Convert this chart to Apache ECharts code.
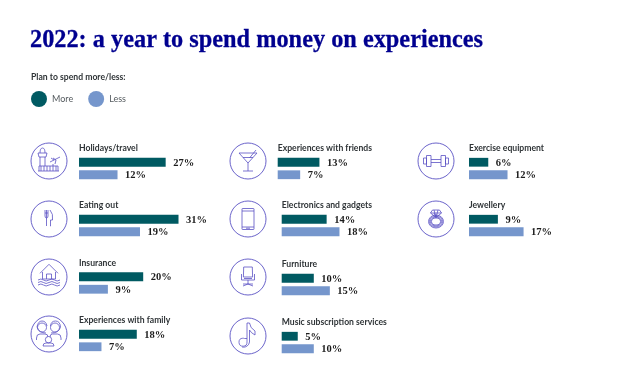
<!DOCTYPE html>
<html><head><meta charset="utf-8">
<style>html,body{margin:0;padding:0;background:#fff}#c{width:640px;height:384px}</style>
<script src="https://cdn.jsdelivr.net/npm/echarts@6/dist/echarts.min.js"></script>
</head><body><div id="c"></div>
<script>
const categories = ['Holidays/travel','Eating out','Insurance','Experiences with family','Experiences with friends','Electronics and gadgets','Furniture','Music subscription services','Exercise equipment','Jewellery'];
const moreValues = [27,31,20,18,13,14,10,5,6,9];
const lessValues = [12,19,9,7,7,18,15,10,12,17];
const seriesNames = ['More','Less'];
const colors = {More:'#005a62',Less:'#7596cc'};
const ink='#5a52c4';
const panelX = [79,79,79,79,277.7,281.7,281.7,281.7,469,469];
const panelY = [156,213,270.5,328,156,213,272,330,156,213];
const iconX = [49,49,49,49,248,248,248,248,436,436];
const iconY = [161,219,277,334,161,219,277,336,161,219];
const PX = 3.21, MAXV = 35, H = 25;
const icons = [
 'M-11 10H10 M-10 10V5H9V10 M-8 5V10 M-5 5V10 M-2 5V10 M1 5V10 M4 5V10 M7 5V10 M-11 -8H-2L-3 -4H-10Z M-9 -4V5 M-4 -4V5 M-9 -8Q-9 -13 -6.5 -13Q-4 -13 -4 -8 M1 1L11 -4 M4 -3L7 -1L6 3 M2 -3L5 -1 M4 3V5',
 'M-4 -9V-3Q-4 -1 -2.5 -1V7 M-1 -9V-3Q-1 -1 -2.5 -1 M-2.5 -9V-1 M1 -9Q4.5 -5 3.5 1H1.5V7H1 M-4 -6H-1',
 'M-9 -3.7L0 -12.7L9 -3.7 M-6.5 -5V2H6.5V-5 M-2.5 2V-3H2.5V2 M-11 3Q-8 1 -5.5 3T0 3T5.5 3T11 3 M-11 5.5Q-8 3.5 -5.5 5.5T0 5.5T5.5 5.5T11 5.5 M-11 8Q-8 6 -5.5 8T0 8T5.5 8T11 8',
 'M-7 -11A4.5 4.5 0 0 1 -7 -2A4.5 4.5 0 0 1 -7 -11 M6 -11A4.5 4.5 0 0 1 6 -2A4.5 4.5 0 0 1 6 -11 M-12.5 6V4Q-12.5 0 -9 0H-4Q-1 0 -1 3 M12 6V4Q12 0 8.5 0H3.5Q1 0 1 3 M-3 -1Q-10 -1 -12 -7Q-11 -13 -7 -13Q-3 -13 -2 -8 M2 -1Q10 -1 11.5 -7Q11 -13 6.5 -13Q2 -13 1.5 -8 M-.5 2.5A3.2 3.2 0 0 1 -.5 8.9A3.2 3.2 0 0 1 -.5 2.5 M-6 12Q-6 9 -3 9H2Q5 9 5 12Z',
 'M-9 -8H9L0 2Z M0 2V10 M-5 10H5 M-5 -3.5H5 M1.5 -3L8 -11',
 'M-5.5 -10.5H5.5Q6 -10.5 6 -10V10Q6 10.5 5.5 10.5H-5.5Q-6 10.5 -6 10V-10Q-6 -10.5 -5.5 -10.5Z M-6 -8H6 M-6 8H6 M-2 9.2H2',
 'M-4.3 -10H4.3L4.6 0H-4.6Z M-6.5 -3V3H6.5V-3 M-4 1.5H4 M0 3V7 M-5 9L0 7L5 9 M-5 7H5',
 'M-1 -13V6A4 4 0 1 1 -3.5 2.5H-1 M1.5 -13Q2 -8 7 -5V-1Q3 -3 1.5 -6V6A6 6 0 0 1 -6 11 M-1 -13H1.5',
 'M-12.5 -3H-9.5V3H-12.5Z M-9.5 -5.5H-5V5.5H-9.5Z M12.5 -3H9.5V3H12.5Z M9.5 -5.5H5V5.5H9.5Z M-5 -1.5H5 M-5 1.5H5',
 'M-3.5 -9H3.5L5.5 -6L0 -1.5L-5.5 -6Z M-5.5 -6H5.5 M-2 -9L0 -1.5L2 -9 M-2 -6L0 -2 M0 -4A7.5 6.5 0 1 1 0 9A7.5 6.5 0 1 1 0 -4 M0 -3A6.5 5.5 0 1 1 0 8A6.5 5.5 0 1 1 0 -3 M0 -2A5.5 4.5 0 1 1 0 7A5.5 4.5 0 1 1 0 -2 M0 -1A4.5 3.5 0 1 1 0 6A4.5 3.5 0 1 1 0 -1'
];
icons.forEach((d,i)=>echarts.graphic.registerShape('icon'+i,echarts.graphic.extendPath(d)));
const sans='Lato';
const serif='"Liberation Serif"';
const grid=[],xAxis=[],yAxis=[],series=[],graphic=[];
categories.forEach((c,i)=>{
  grid.push({left:panelX[i],top:panelY[i],width:PX*MAXV,height:H});
  xAxis.push({gridIndex:i,type:'value',min:0,max:MAXV,show:false});
  yAxis.push({gridIndex:i,type:'category',inverse:true,data:seriesNames,show:false});
  [moreValues,lessValues].forEach((vals,k)=>{
    series.push({type:'bar',name:seriesNames[k],xAxisIndex:i,yAxisIndex:i,barWidth:8.8,
      itemStyle:{color:colors[seriesNames[k]]},silent:true,animation:false,
      data:[k===0?vals[i]:'-',k===1?vals[i]:'-'],barGap:'-100%',
      label:{show:true,position:'right',distance:7.5,offset:[0,1],formatter:'{c}%',fontFamily:serif,fontWeight:'bold',fontSize:10.5,color:'#1c1c1c'}});
  });
  graphic.push({type:'text',x:panelX[i],y:panelY[i]-13,scaleX:0.89,style:{text:c,font:'bold 9.7px '+sans,fill:'#2f3437'}});
  graphic.push({type:'circle',shape:{cx:iconX[i],cy:iconY[i],r:18},style:{fill:'none',stroke:ink,lineWidth:0.9}});
  graphic.push({type:'icon'+i,x:iconX[i],y:iconY[i],style:{fill:'none',stroke:ink,lineWidth:0.8}});
});
graphic.push({type:'text',x:30,y:27,scaleX:0.935,style:{text:'2022: a year to spend money on experiences',font:'bold 26px '+serif,fill:'#00008f',stroke:'#00008f',lineWidth:0.3}});
graphic.push({type:'text',x:31,y:72,scaleX:0.89,style:{text:'Plan to spend more/less:',font:'bold 9.7px '+sans,fill:'#2f3437'}});
const chart=echarts.init(document.getElementById('c'),null,{renderer:'canvas'});
chart.setOption({animation:false,backgroundColor:'#fff',
  legend:{left:31,top:91,padding:0,icon:'circle',itemWidth:16,itemHeight:16,itemGap:15,selectedMode:false,data:seriesNames,
    textStyle:{fontFamily:sans,fontSize:9,color:'#555b5f'}},
  grid,xAxis,yAxis,series,graphic});
</script></body></html>
